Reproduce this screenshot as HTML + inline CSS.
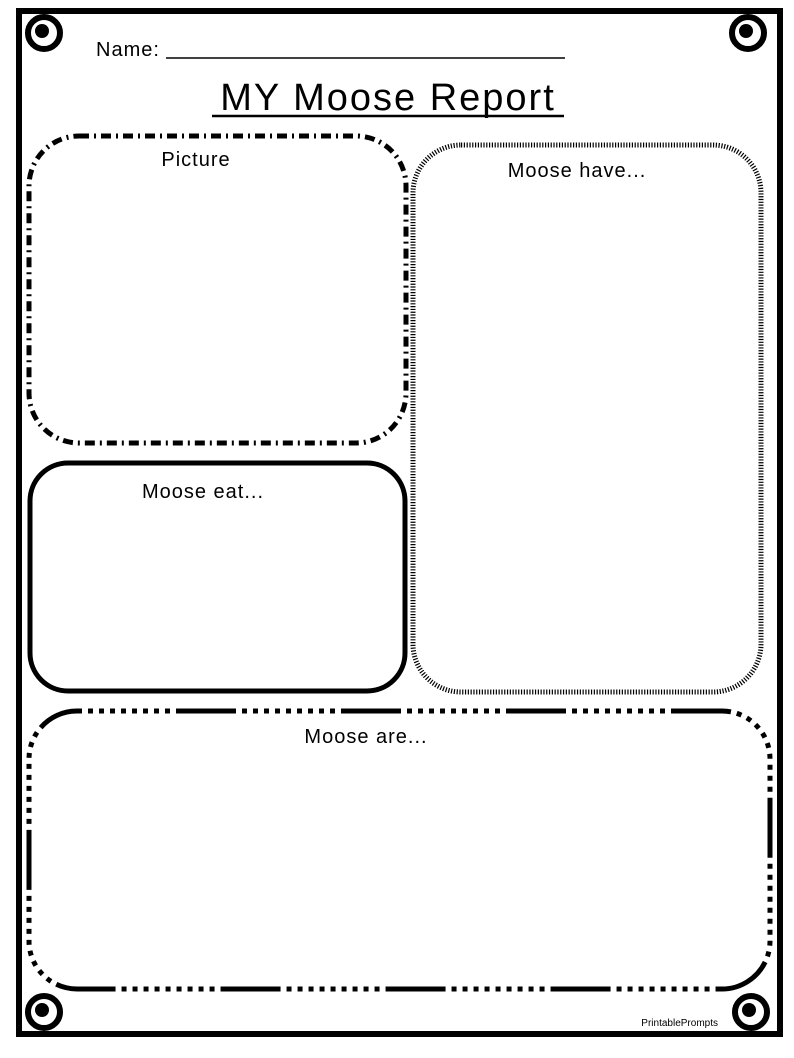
<!DOCTYPE html>
<html><head><style>
html,body{margin:0;padding:0;background:#fff;width:794px;height:1058px;overflow:hidden}
svg{display:block}
text{font-family:"Liberation Sans",sans-serif;fill:#000}
</style></head><body>
<svg width="794" height="1058" viewBox="0 0 794 1058">
<rect x="19" y="11" width="761" height="1023" fill="none" stroke="#000" stroke-width="6"/>
<!-- corner spirals -->
<g fill="none" stroke="#000">
<circle cx="44" cy="33" r="16" stroke-width="6" fill="#fff"/><circle cx="42" cy="31" r="7" fill="#000" stroke="none"/>
<circle cx="748" cy="33" r="16" stroke-width="6" fill="#fff"/><circle cx="746" cy="31" r="7" fill="#000" stroke="none"/>
<circle cx="44" cy="1012" r="16" stroke-width="6" fill="#fff"/><circle cx="42" cy="1010" r="7" fill="#000" stroke="none"/>
<circle cx="751" cy="1012" r="16" stroke-width="6" fill="#fff"/><circle cx="749" cy="1010" r="7" fill="#000" stroke="none"/>
</g>
<text x="96" y="56" font-size="20" letter-spacing="1">Name:</text>
<line x1="166" y1="58" x2="565" y2="58" stroke="#000" stroke-width="1.5"/>
<text x="388" y="110" font-size="38" text-anchor="middle" letter-spacing="2">MY Moose Report</text>
<line x1="212" y1="116" x2="564" y2="116" stroke="#000" stroke-width="2.5"/>
<!-- Picture -->
<rect x="29" y="136" width="377" height="307" rx="50" fill="none" stroke="#000" stroke-width="5" stroke-dasharray="10 5 2 5"/>
<text x="196" y="166" font-size="20" text-anchor="middle" letter-spacing="1">Picture</text>
<!-- Moose eat -->
<rect x="30" y="463" width="375" height="228" rx="38" fill="none" stroke="#000" stroke-width="5"/>
<text x="203" y="498" font-size="20" text-anchor="middle" letter-spacing="1">Moose eat...</text>
<!-- Moose have -->
<rect x="413" y="145" width="348" height="547" rx="48" fill="none" stroke="#000" stroke-width="5" stroke-dasharray="1.2 1.6"/>
<text x="577" y="177" font-size="20" text-anchor="middle" letter-spacing="1">Moose have...</text>
<!-- Moose are -->
<rect x="29" y="711" width="741" height="278" rx="48" fill="none" stroke="#000" stroke-width="5" stroke-dasharray="5 6 5 6 5 6 5 6 5 6 5 6 5 6 5 6 5 6 60 6"/>
<text x="366" y="743" font-size="20" text-anchor="middle" letter-spacing="1">Moose are...</text>
<text x="718" y="1026" font-size="10" text-anchor="end">PrintablePrompts</text>
</svg>
</body></html>
